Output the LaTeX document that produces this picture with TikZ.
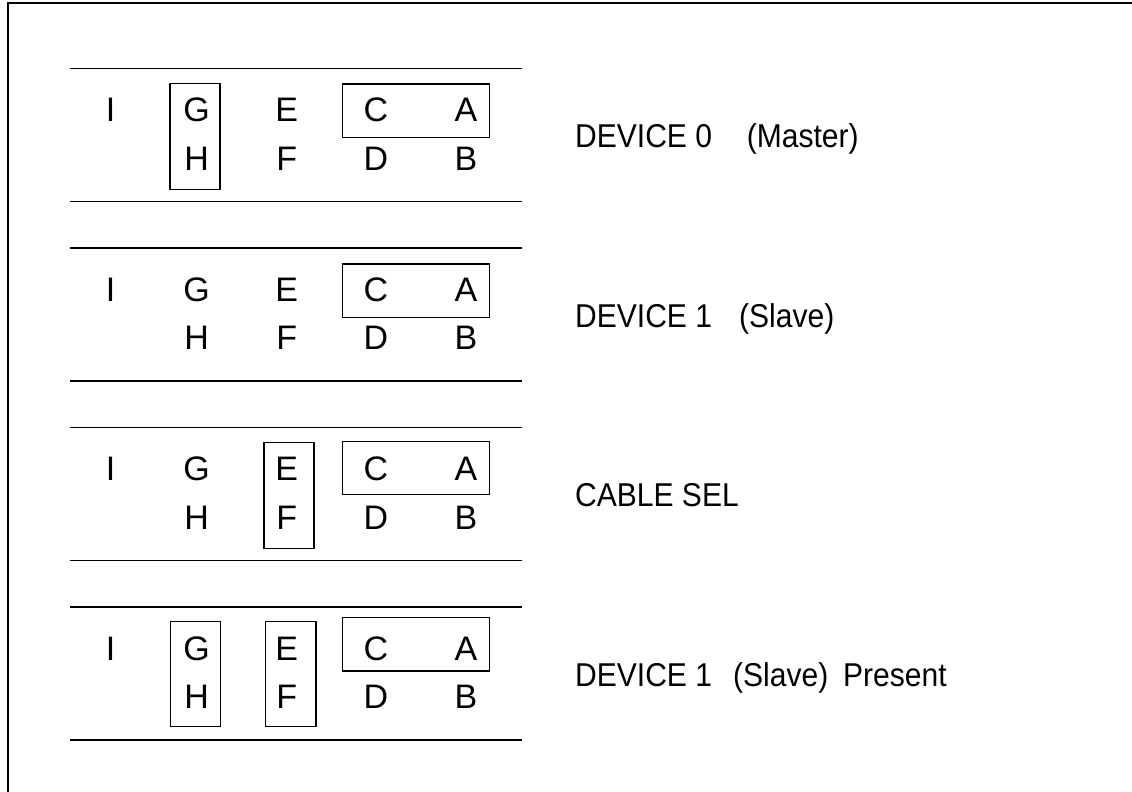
\documentclass[tikz,border=0pt]{standalone}
\usepackage{fontspec}
\setmainfont{Liberation Sans}
\newfontfamily\lblfont[FakeStretch=0.91]{Liberation Sans}
\begin{document}
\begin{tikzpicture}[x=1pt,y=-1pt,
  pin/.style={font=\fontsize{34}{40}\selectfont, inner sep=0pt},
  lbl/.style={font=\lblfont\fontsize{33}{38}\selectfont, inner sep=0pt, anchor=base west},
  rail/.style={line width=1.6pt},
  jumper/.style={line width=1.1pt},
  frame/.style={line width=2pt}]
\useasboundingbox (0,0) rectangle (1132,792);
\draw[frame] (7.5,792) -- (7.5,3.5) -- (1132,3.5);

\foreach \t/\n in {68.5/1, 248/2, 427.5/3, 607/4} {
  \draw[rail] (70,\t) -- (522,\t);
  \draw[rail] (70,\t+133) -- (522,\t+133);
  \node[pin] (I\n) at (110.7,\t+41.5) {I};
  \node[pin] (G\n) at (196.7,\t+41.5) {G};
  \node[pin] (H\n) at (196.7,\t+90) {H};
  \node[pin] (E\n) at (286.7,\t+41.5) {E};
  \node[pin] (F\n) at (286.7,\t+90) {F};
  \node[pin] (C\n) at (376,\t+41.5) {C};
  \node[pin] (D\n) at (376,\t+90) {D};
  \node[pin] (A\n) at (466,\t+41.5) {A};
  \node[pin] (B\n) at (466,\t+90) {B};
}

% group 1 jumpers
\draw[jumper] (170,83.5) rectangle (220,189.5);
\draw[jumper] (342.7,84) rectangle (489.3,137.3);
% group 2 jumpers
\draw[jumper] (342.7,264) rectangle (489.3,317.3);
% group 3 jumpers
\draw[jumper] (264,442.7) rectangle (314,548.3);
\draw[jumper] (342.7,441.7) rectangle (489.3,494.3);
% group 4 jumpers
\draw[jumper] (170.7,621.7) rectangle (220.7,726.7);
\draw[jumper] (265.7,621.7) rectangle (316,726.7);
\draw[jumper] (342.7,617.7) rectangle (489.3,671);

% labels
\node[lbl] (l1a) at (575,147.5) {DEVICE 0};
\node[lbl] (l1b) at (746.7,147.5) {(Master)};
\node[lbl] (l2a) at (575,327) {DEVICE 1};
\node[lbl] (l2b) at (739,327) {(Slave)};
\node[lbl] (l3a) at (575,506.5) {CABLE SEL};
\node[lbl] (l4a) at (575,686) {DEVICE 1};
\node[lbl] (l4b) at (733,686) {(Slave)};
\node[lbl] (l4c) at (843,686) {Present};
\end{tikzpicture}
\end{document}
